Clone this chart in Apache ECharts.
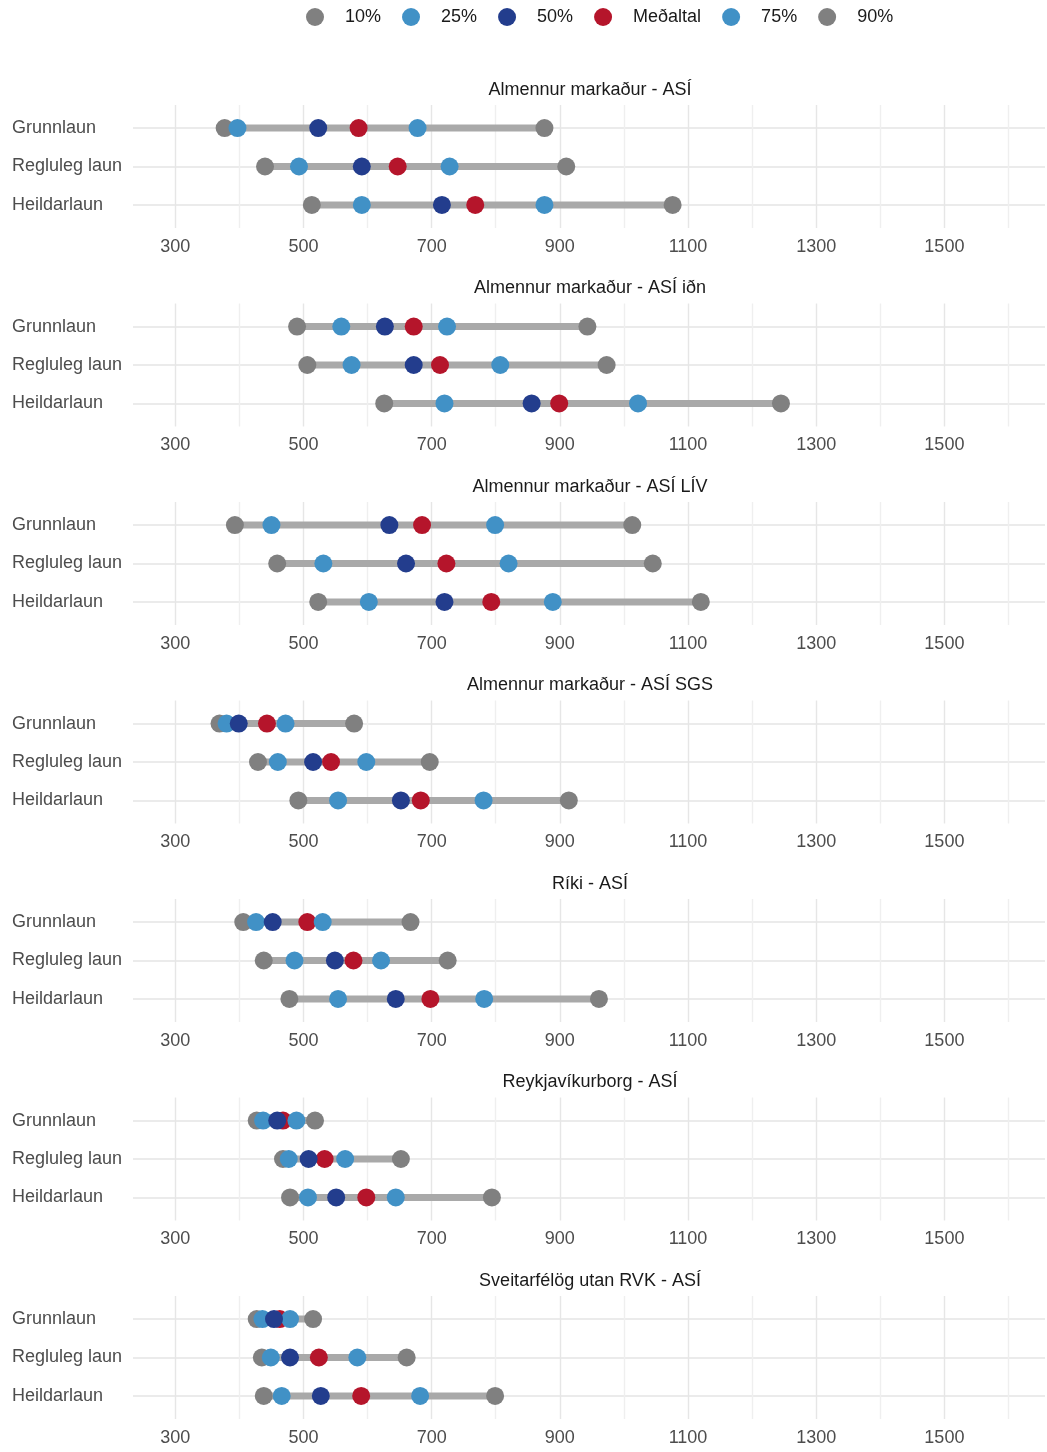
<!DOCTYPE html>
<html><head><meta charset="utf-8">
<script src="https://cdn.jsdelivr.net/npm/echarts@6/dist/echarts.min.js"></script>
<style>html,body{margin:0;padding:0;background:#fff}#c{width:1047px;height:1452px}</style>
</head><body><div id="c"></div>
<script>
const panels = ['Almennur markaður - ASÍ','Almennur markaður - ASÍ iðn','Almennur markaður - ASÍ LÍV','Almennur markaður - ASÍ SGS','Ríki - ASÍ','Reykjavíkurborg - ASÍ','Sveitarfélög utan RVK - ASÍ'];
const rows = ['Grunnlaun','Regluleg laun','Heildarlaun'];
// values per panel: [Grunnlaun, Regluleg laun, Heildarlaun]
const p10  = [[377,440,513],[490,506,626],[393,459,523],[369,429,492],[406,438,478],[427,468,479],[427,435,438]];
const p25  = [[397,493,591],[559,575,720],[450,531,602],[380,460,554],[426,486,554],[437,477,507],[436,449,466]];
const p50  = [[523,591,716],[627,672,856],[634,660,720],[399,515,652],[452,549,644],[459,508,551],[454,479,527]];
const mean = [[586,647,768],[672,713,899],[685,723,793],[443,543,683],[506,578,698],[468,533,598],[463,524,590]];
const p75  = [[678,728,876],[724,807,1022],[799,820,889],[472,598,781],[530,621,782],[489,565,644],[479,584,682]];
const p90  = [[876,910,1076],[943,973,1245],[1013,1045,1120],[579,697,914],[667,725,961],[518,652,794],[515,661,799]];
const tickValues = [300,400,500,600,700,800,900,1000,1100,1200,1300,1400,1500,1600];
const labelValues = [300,500,700,900,1100,1300,1500];
const legendNames = ['10%','25%','50%','Meðaltal','75%','90%'];

const valuesByName = {'10%':p10,'25%':p25,'50%':p50,'Meðaltal':mean,'75%':p75,'90%':p90};
const colorByName = {'10%':'#808080','25%':'#4191c6','50%':'#233d8d','Meðaltal':'#b5152b','75%':'#4191c6','90%':'#808080'};
const drawOrder = ['10%','90%','Meðaltal','25%','75%','50%'];

const FONT = '"Liberation Sans", Arial, Helvetica, sans-serif';
const PANEL_STEP = 198.5, GRID_TOP0 = 105, GRID_H = 123;

const grids = [], xAxes = [], yAxes = [], titles = [], series = [];
panels.forEach((p, i) => {
  const top = GRID_TOP0 + PANEL_STEP * i;
  grids.push({left: 133, width: 912, top: top, height: GRID_H});
  titles.push({text: p, left: 590, top: top - 24, textAlign: 'center', padding: 0,
    textStyle: {fontFamily: FONT, fontSize: 18, fontWeight: 'normal', color: '#1a1a1a'}});
  xAxes.push({type: 'value', gridIndex: i, min: 234, max: 1657,
    axisLine: {show: false},
    axisTick: {show: false, customValues: tickValues},
    axisLabel: {customValues: labelValues, formatter: v => String(v), fontFamily: FONT, fontSize: 18, color: '#4d4d4d', margin: 10},
    splitLine: {show: true, lineStyle: {color: ['#e6e6e6', '#efefef'], width: 1.4}}});
  yAxes.push({type: 'value', gridIndex: i, min: 0.4, max: 3.6, inverse: true,
    axisLine: {show: false},
    axisTick: {show: false, customValues: [1, 2, 3]},
    axisLabel: {customValues: [1, 2, 3], formatter: v => rows[Math.round(v) - 1] || '',
      align: 'left', margin: 121, fontFamily: FONT, fontSize: 18, color: '#4d4d4d', padding: [2, 0, 0, 0]},
    splitLine: {show: true, lineStyle: {color: '#ebebeb', width: 2}}});
  series.push({type: 'custom', xAxisIndex: i, yAxisIndex: i, silent: true,
    data: rows.map((r, j) => [p10[i][j], p90[i][j], j + 1]),
    encode: {x: [0, 1], y: 2},
    renderItem: (params, api) => {
      const a = api.coord([api.value(0), api.value(2)]);
      const b = api.coord([api.value(1), api.value(2)]);
      return {type: 'line', shape: {x1: a[0], y1: a[1], x2: b[0], y2: b[1]},
        style: {stroke: '#a9a9a9', lineWidth: 7}};
    }});
  drawOrder.forEach(name => {
    series.push({type: 'scatter', name: name, xAxisIndex: i, yAxisIndex: i,
      symbol: 'circle', symbolSize: 18, silent: true,
      itemStyle: {color: colorByName[name], opacity: 1},
      emphasis: {disabled: true},
      data: rows.map((r, j) => [valuesByName[name][i][j], j + 1])});
  });
});

const chart = echarts.init(document.getElementById('c'), null, {renderer: 'canvas'});
chart.setOption({
  animation: false,
  backgroundColor: '#ffffff',
  title: titles,
  legend: {data: legendNames, left: 306, top: 8, padding: 0, itemWidth: 18, itemHeight: 18, itemGap: 21,
    icon: 'circle', selectedMode: false,
    textStyle: {fontFamily: FONT, fontSize: 18, color: '#1a1a1a', padding: [0, 0, 0, 16]}},
  grid: grids, xAxis: xAxes, yAxis: yAxes, series: series
});
</script></body></html>
